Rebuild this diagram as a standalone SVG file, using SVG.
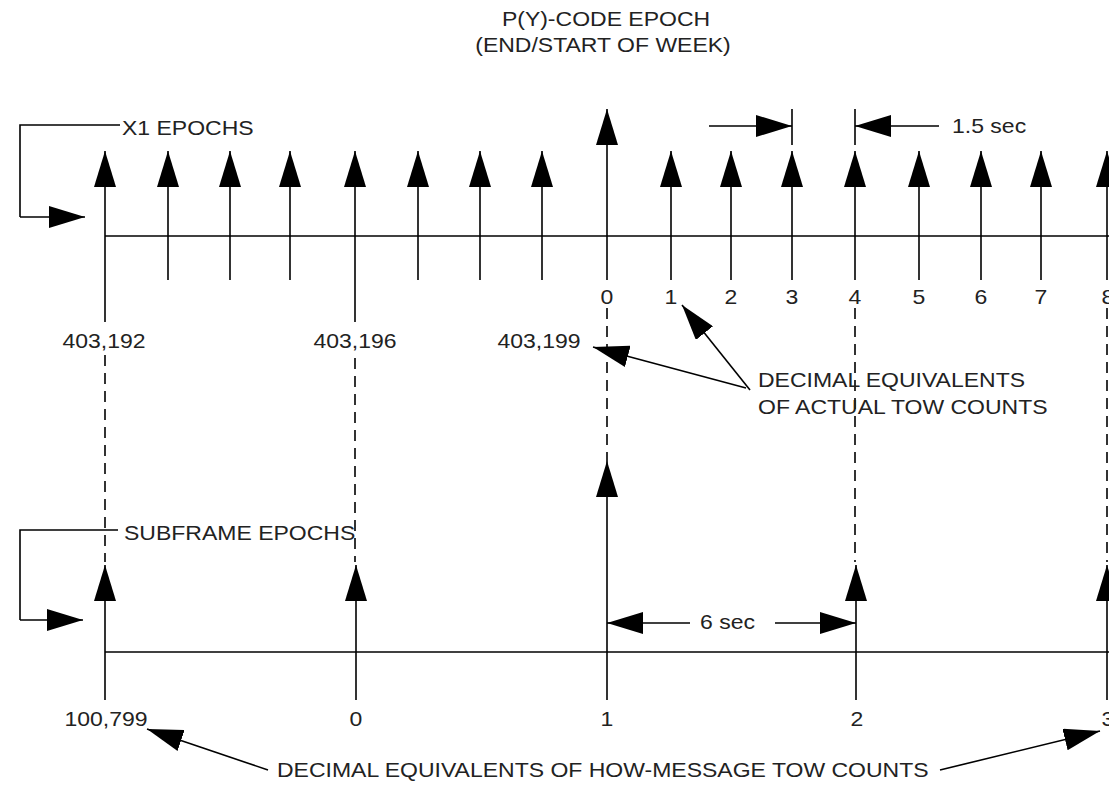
<svg xmlns="http://www.w3.org/2000/svg" width="1109" height="785" viewBox="0 0 1109 785">
<style>
  .ln{stroke:#000;stroke-width:1.6;fill:none}
  .ds{stroke:#000;stroke-width:1.6;fill:none;stroke-dasharray:11 7}
  .ar{stroke:#000;stroke-width:1.6;fill:none;marker-end:url(#ah)}
  text{font-family:"Liberation Sans",Arial,sans-serif;font-size:20px;fill:#222}
  .m{text-anchor:middle}
</style>
<defs>
  <marker id="ah" markerUnits="userSpaceOnUse" markerWidth="36" markerHeight="22" viewBox="0 0 36 22" refX="36" refY="11" orient="auto">
    <path d="M0,0 L36,11 L0,22 Z" fill="#000"/>
  </marker>
</defs>

<g id="title">
  <text class="m" transform="matrix(1.15,0,0,1,606,26)">P(Y)-CODE EPOCH</text>
  <text class="m" transform="matrix(1.15,0,0,1,603,52)">(END/START OF WEEK)</text>
</g>

<g id="x1-epochs">
  <line class="ln" x1="105" y1="236" x2="1109" y2="236"/>
  <line class="ar" x1="105" y1="322" x2="105" y2="151"/>
  <line class="ar" x1="168" y1="280" x2="168" y2="151"/>
  <line class="ar" x1="230" y1="280" x2="230" y2="151"/>
  <line class="ar" x1="290" y1="280" x2="290" y2="151"/>
  <line class="ar" x1="355" y1="322" x2="355" y2="151"/>
  <line class="ar" x1="418" y1="280" x2="418" y2="151"/>
  <line class="ar" x1="480" y1="280" x2="480" y2="151"/>
  <line class="ar" x1="542" y1="280" x2="542" y2="151"/>
  <line class="ar" x1="607" y1="280" x2="607" y2="109"/>
  <line class="ar" x1="671" y1="280" x2="671" y2="151"/>
  <line class="ar" x1="731" y1="280" x2="731" y2="151"/>
  <line class="ar" x1="792" y1="280" x2="792" y2="151"/>
  <line class="ar" x1="855" y1="280" x2="855" y2="151"/>
  <line class="ar" x1="919" y1="280" x2="919" y2="151"/>
  <line class="ar" x1="981" y1="280" x2="981" y2="151"/>
  <line class="ar" x1="1041" y1="280" x2="1041" y2="151"/>
  <line class="ar" x1="1107" y1="280" x2="1107" y2="151"/>
</g>

<g id="x1-label">
  <polyline class="ln" points="120,125 20,125 20,217"/>
  <line class="ar" x1="20" y1="217" x2="85" y2="217"/>
  <text transform="matrix(1.15,0,0,1,122,135)">X1 EPOCHS</text>
</g>

<g id="dim-1-5">
  <line class="ar" x1="709" y1="126" x2="792" y2="126"/>
  <line class="ln" x1="792" y1="109" x2="792" y2="145"/>
  <line class="ar" x1="939" y1="126" x2="855" y2="126"/>
  <line class="ln" x1="855" y1="109" x2="855" y2="145"/>
  <text transform="matrix(1.15,0,0,1,952,133)">1.5 sec</text>
</g>

<g id="x1-counts">
  <text class="m" transform="matrix(1.15,0,0,1,607,304)">0</text>
  <text class="m" transform="matrix(1.15,0,0,1,671,304)">1</text>
  <text class="m" transform="matrix(1.15,0,0,1,731,304)">2</text>
  <text class="m" transform="matrix(1.15,0,0,1,792,304)">3</text>
  <text class="m" transform="matrix(1.15,0,0,1,855,304)">4</text>
  <text class="m" transform="matrix(1.15,0,0,1,919,304)">5</text>
  <text class="m" transform="matrix(1.15,0,0,1,981,304)">6</text>
  <text class="m" transform="matrix(1.15,0,0,1,1041,304)">7</text>
  <text class="m" transform="matrix(1.15,0,0,1,1108,304)">8</text>
  <text class="m" transform="matrix(1.15,0,0,1,104,348)">403,192</text>
  <text class="m" transform="matrix(1.15,0,0,1,355,348)">403,196</text>
  <text class="m" transform="matrix(1.15,0,0,1,539,348)">403,199</text>
</g>

<g id="dashes">
  <line class="ds" x1="105" y1="355" x2="105" y2="562"/>
  <line class="ds" x1="355" y1="358" x2="355" y2="562"/>
  <line class="ds" x1="607" y1="308" x2="607" y2="461"/>
  <line class="ds" x1="855" y1="308" x2="855" y2="562"/>
  <line class="ds" x1="1107" y1="308" x2="1107" y2="562"/>
</g>

<g id="tow-note">
  <line class="ar" x1="746" y1="388" x2="593" y2="347"/>
  <line class="ar" x1="750" y1="390" x2="682" y2="305"/>
  <text transform="matrix(1.15,0,0,1,758,387)">DECIMAL EQUIVALENTS</text>
  <text transform="matrix(1.15,0,0,1,758,414)">OF ACTUAL TOW COUNTS</text>
</g>

<g id="subframe-epochs">
  <line class="ln" x1="105" y1="652" x2="1109" y2="652"/>
  <line class="ar" x1="105" y1="700" x2="105" y2="565"/>
  <line class="ar" x1="356" y1="700" x2="356" y2="565"/>
  <line class="ar" x1="607" y1="700" x2="607" y2="461"/>
  <line class="ar" x1="856" y1="700" x2="856" y2="565"/>
  <line class="ar" x1="1107" y1="700" x2="1107" y2="565"/>
</g>

<g id="subframe-label">
  <polyline class="ln" points="118,530 20,530 20,620"/>
  <line class="ar" x1="20" y1="620" x2="83" y2="620"/>
  <text transform="matrix(1.15,0,0,1,124,540)">SUBFRAME EPOCHS</text>
</g>

<g id="dim-6">
  <line class="ar" x1="690" y1="623" x2="607" y2="623"/>
  <line class="ar" x1="775" y1="623" x2="856" y2="623"/>
  <text transform="matrix(1.15,0,0,1,700,629)">6 sec</text>
</g>

<g id="how-counts">
  <text class="m" transform="matrix(1.15,0,0,1,106,726)">100,799</text>
  <text class="m" transform="matrix(1.15,0,0,1,356,726)">0</text>
  <text class="m" transform="matrix(1.15,0,0,1,607,726)">1</text>
  <text class="m" transform="matrix(1.15,0,0,1,857,726)">2</text>
  <text class="m" transform="matrix(1.15,0,0,1,1108,726)">3</text>
  <line class="ar" x1="268" y1="770" x2="147" y2="729"/>
  <line class="ar" x1="940" y1="770" x2="1100" y2="731"/>
  <text transform="matrix(1.15,0,0,1,277,777)">DECIMAL EQUIVALENTS OF HOW-MESSAGE TOW COUNTS</text>
</g>
</svg>
